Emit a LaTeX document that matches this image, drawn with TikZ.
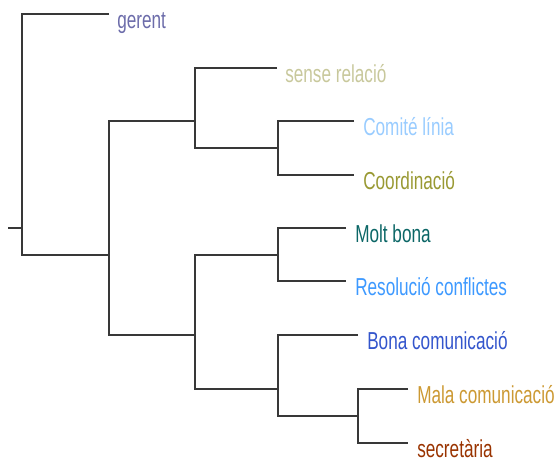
\documentclass[tikz,border=0pt]{standalone}
\usepackage{fontspec}
\setmainfont{Liberation Sans}

\definecolor{cGerent}{HTML}{6C6CAA}
\definecolor{cSense}{HTML}{C8C89C}
\definecolor{cComite}{HTML}{99CCFF}
\definecolor{cCoord}{HTML}{999933}
\definecolor{cMolt}{HTML}{0B6666}
\definecolor{cResol}{HTML}{3D99FF}
\definecolor{cBona}{HTML}{3355CC}
\definecolor{cMala}{HTML}{CC9933}
\definecolor{cSecr}{HTML}{993300}

% narrow labels
\newcommand{\nrw}[1]{\scalebox{0.70}[1]{#1}}

\tikzset{
  branch/.style={draw=black!78, line width=2pt},
  leaf/.style={anchor=base west, inner sep=0pt, font=\fontsize{18.4}{20}\selectfont}
}

\begin{document}
\begin{tikzpicture}[x=0.75pt, y=-0.75pt]
            \useasboundingbox (0,0) rectangle (556,462);
            % merge points
            \coordinate (root) at (22,228);
            \coordinate (stub) at (8,228);
            \coordinate (a) at (109,255);
            \coordinate (b) at (195,121);
            \coordinate (c) at (278,148);
            \coordinate (d) at (195,335);
            \coordinate (e) at (278,255);
            \coordinate (f) at (278,389);
            \coordinate (g) at (358,416);
            % leaf ends
            \coordinate (tGerent) at (109,14);
            \coordinate (tSense) at (277,68);
            \coordinate (tComite) at (354,121);
            \coordinate (tCoord) at (354,175);
            \coordinate (tMolt) at (346,228);
            \coordinate (tResol) at (346,281);
            \coordinate (tBona) at (358,335);
            \coordinate (tMala) at (408,389);
            \coordinate (tSecr) at (408,443);
            % branches
            \draw[branch] (stub) -- (root);
            \draw[branch] (tGerent) -| (root) |- (a);
            \draw[branch] (b) -| (a) |- (d);
            \draw[branch] (tSense) -| (b) |- (c);
            \draw[branch] (tComite) -| (c) |- (tCoord);
            \draw[branch] (e) -| (d) |- (f);
            \draw[branch] (tMolt) -| (e) |- (tResol);
            \draw[branch] (tBona) -| (f) |- (g);
            \draw[branch] (tMala) -| (g) |- (tSecr);
            % labels
            \node[leaf, text=cGerent] (gerent) at (117,28) {\nrw{gerent}};
            \node[leaf, text=cSense] (sense) at (285,82) {\nrw{sense relació}};
            \node[leaf, text=cComite] (comite) at (363,135) {\nrw{Comité línia}};
            \node[leaf, text=cCoord] (coord) at (363,189) {\nrw{Coordinació}};
            \node[leaf, text=cMolt] (molt) at (355,242) {\nrw{Molt bona}};
            \node[leaf, text=cResol] (resol) at (355,295) {\nrw{Resolució conflictes}};
            \node[leaf, text=cBona] (bona) at (367,349) {\nrw{Bona comunicació}};
            \node[leaf, text=cMala] (mala) at (417,403) {\nrw{Mala comunicació}};
            \node[leaf, text=cSecr] (secr) at (417,457) {\nrw{secretària}};
        \end{tikzpicture}
\end{document}
